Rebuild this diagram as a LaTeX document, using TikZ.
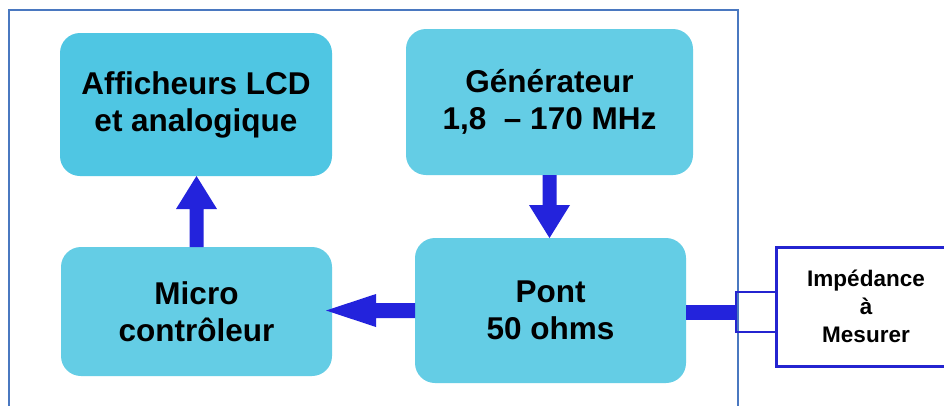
\documentclass[tikz,border=0pt]{standalone}
\usepackage{fontspec}
\setmainfont{Liberation Sans}
\usetikzlibrary{calc}
\definecolor{boxA}{HTML}{4FC6E3}
\definecolor{boxB}{HTML}{64CDE5}
\definecolor{arrblue}{HTML}{2323DC}
\definecolor{impblue}{HTML}{2424D0}
\definecolor{framecol}{HTML}{4A78C0}
\tikzset{
  blk/.style={rectangle, rounded corners=20pt, inner sep=0pt, outer sep=0pt,
    align=center, font=\fontsize{31.5}{37}\selectfont\bfseries, text=black},
  arr/.style={fill=arrblue},
  impbox/.style={rectangle, draw=impblue, line width=3pt, fill=white, inner sep=0pt,
    outer sep=0pt, align=center, font=\fontsize{22.5}{28}\selectfont\bfseries},
  connbox/.style={rectangle, draw=impblue, line width=2.5pt, inner sep=0pt, outer sep=0pt,
    minimum width=40pt, minimum height=40pt},
}
\begin{document}
\begin{tikzpicture}[x=1pt,y=-1pt]
\useasboundingbox (0,0) rectangle (944,405);
\clip (0,0) rectangle (944,405);
\fill[white] (0,0) rectangle (944,405);
% frame
\draw[framecol, line width=1.3pt] (9,410) -- (9,10) -- (738,10) -- (738,410);
% blocks
\node[blk, fill=boxA, minimum width=272pt, minimum height=143pt] (aff) at (196,104.5)
  {Afficheurs LCD\\et analogique};
\node[blk, fill=boxB, minimum width=287pt, minimum height=146pt] (gen) at (549.5,102)
  {Générateur\\1,8\ \ – 170 MHz};
\node[blk, fill=boxB, minimum width=271pt, minimum height=129pt] (micro) at (196.5,311.5)
  {Micro\\contrôleur};
\node[blk, fill=boxB, minimum width=271pt, minimum height=145pt] (pont) at (550.5,310.5)
  {Pont\\50 ohms};
\node[impbox, minimum width=180pt, minimum height=119pt] (imp) at (866,306.5)
  {Impédance\\à\\Mesurer};
\node[connbox] (conn) at (756,312) {};
% connectors
\draw[arrblue, line width=15pt] (pont.east |- conn) -- (conn.west);
% Gen -> Pont (down)
\coordinate (tipD) at (gen.south |- pont.north);
\fill[arr] ($(gen.south)+(-7,0)$) -- ($(gen.south)+(-7,30)$) -- ($(gen.south)+(-20.5,30)$)
  -- (tipD) -- ($(gen.south)+(20.5,30)$) -- ($(gen.south)+(7,30)$) -- ($(gen.south)+(7,0)$) -- cycle;
% Micro -> Aff (up)
\coordinate (tipU) at (micro.north |- aff.south);
\fill[arr] ($(micro.north)+(-7,0)$) -- ($(micro.north)+(-7,-38)$) -- ($(micro.north)+(-20.5,-38)$)
  -- (tipU) -- ($(micro.north)+(20.5,-38)$) -- ($(micro.north)+(7,-38)$) -- ($(micro.north)+(7,0)$) -- cycle;
% Pont -> Micro (left)
\coordinate (tipL0) at (micro.east |- pont.west);
\coordinate (tipL) at ($(tipL0)+(-6,0)$);
\fill[arr] ($(pont.west)+(0,-7.5)$) -- ($(pont.west)+(-39,-7.5)$) -- ($(pont.west)+(-39,-16.5)$)
  -- (tipL) -- ($(pont.west)+(-39,16.5)$) -- ($(pont.west)+(-39,7.5)$) -- ($(pont.west)+(0,7.5)$) -- cycle;
\end{tikzpicture}
\end{document}
